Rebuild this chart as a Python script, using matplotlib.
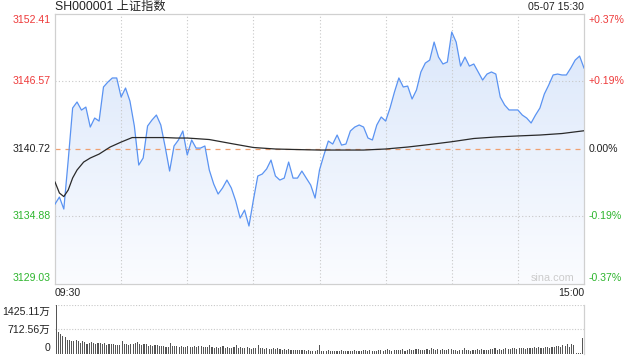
import numpy as np
import matplotlib
matplotlib.use('Agg')
import matplotlib.pyplot as plt
from matplotlib.colors import LinearSegmentedColormap
from matplotlib.patches import PathPatch
from matplotlib.path import Path

plt.rcParams['font.family'] = ['Liberation Sans', 'Noto Sans CJK SC', 'DejaVu Sans']

title = 'SH000001 上证指数'
stamp = '05-07 15:30'
prev_close = 3140.72
price_ticks = [3129.03, 3134.88, 3140.72, 3146.57, 3152.41]
pct_labels = ['-0.37%', '-0.19%', '0.00%', '+0.19%', '+0.37%']
time_labels = ['09:30', '15:00']

# price sampled every 2 minutes (minute index 0..240)
price = [3135.95, 3136.56, 3135.52, 3139.76, 3144.27, 3144.79, 3144.09, 3144.35, 3142.62, 3143.40,
         3143.14, 3146.09, 3146.52, 3146.87, 3146.87, 3145.22, 3146.00, 3144.87, 3142.71, 3139.33,
         3139.94, 3142.71, 3143.23, 3143.66, 3142.80, 3140.89, 3138.81, 3140.98, 3141.50, 3142.28,
         3140.20, 3141.50, 3140.80, 3140.80, 3140.98, 3138.90, 3137.69, 3136.82, 3137.34, 3138.03,
         3137.34, 3136.21, 3134.74, 3135.43, 3134.05, 3136.30, 3138.38, 3138.55, 3138.99, 3139.76,
         3138.38, 3138.03, 3138.20, 3139.59, 3138.20, 3138.20, 3138.81, 3138.20, 3137.60, 3136.47,
         3138.90, 3140.20, 3141.41, 3141.15, 3141.93, 3141.06, 3141.15, 3142.28, 3142.62, 3142.80,
         3142.62, 3141.67, 3141.50, 3142.80, 3143.49, 3143.14, 3144.27, 3145.65, 3146.87, 3146.09,
         3146.17, 3145.05, 3145.83, 3147.39, 3148.16, 3148.42, 3149.98, 3148.68, 3148.08, 3148.25,
         3150.85, 3149.98, 3147.90, 3148.68, 3147.90, 3148.08, 3147.39, 3146.69, 3147.21, 3147.39,
         3147.21, 3145.22, 3144.53, 3144.10, 3144.10, 3144.10, 3143.66, 3143.40, 3142.97, 3143.66,
         3144.27, 3145.48, 3146.26, 3147.13, 3147.21, 3147.13, 3147.13, 3147.73, 3148.42, 3148.77,
         3147.73]
price_minutes = list(range(0, 241, 2))

avg_minutes = [0, 2, 4, 6, 8, 10, 13, 16, 20, 25, 30, 35, 40, 45, 50, 55, 60, 70, 80, 90, 100,
               110, 120, 130, 140, 150, 160, 170, 180, 190, 200, 210, 220, 230, 240]
avg_price = [3137.86, 3136.91, 3136.60, 3137.17, 3138.21, 3138.90, 3139.59, 3139.94, 3140.28,
             3140.89, 3141.32, 3141.71, 3141.71, 3141.71, 3141.71, 3141.67, 3141.67, 3141.54,
             3141.19, 3140.85, 3140.72, 3140.67, 3140.63, 3140.63, 3140.63, 3140.72, 3140.89,
             3141.11, 3141.35, 3141.63, 3141.76, 3141.85, 3141.93, 3142.06, 3142.30]

# volume per minute, in 万
volume = [1425, 630, 580, 515, 485, 420, 400, 390, 380, 395,
          370, 330, 380, 340, 300, 310, 360, 320, 290, 330,
          310, 290, 330, 270, 300, 290, 280, 260, 270, 250,
          390, 300, 280, 270, 290, 300, 320, 350, 290, 260,
          280, 300, 230, 270, 220, 260, 250, 240, 230, 220,
          210, 200, 330, 240, 220, 230, 210, 220, 200, 210,
          230, 200, 190, 220, 210, 230, 220, 200, 210, 190,
          260, 200, 180, 190, 170, 200, 220, 180, 190, 170,
          160, 210, 260, 170, 200, 180, 160, 190, 170, 150,
          180, 170, 250, 160, 170, 150, 160, 150, 140, 160,
          150, 170, 140, 130, 150, 120, 140, 130, 120, 110,
          130, 120, 110, 120, 100, 110, 90, 100, 80, 120,
          250,
          100, 90, 100, 110, 90, 95, 100, 90, 100, 110,
          95, 90, 100, 90, 95, 110, 100, 95, 100, 110,
          120, 100, 110, 90, 100, 95, 110, 120, 100, 110,
          140, 110, 100, 130, 120, 110, 130, 140, 100, 110,
          150, 120, 110, 140, 150, 110, 120, 130, 150, 120,
          160, 140, 110, 140, 130, 150, 120, 110, 150, 140,
          120, 110, 100, 110, 120, 160, 120, 110, 100, 110,
          120, 150, 130, 140, 110, 120, 130, 140, 150, 170,
          120, 140, 130, 150, 160, 140, 150, 170, 160, 140,
          180, 160, 170, 150, 170, 180, 160, 190, 170, 200,
          180, 160, 190, 200, 180, 210, 190, 220, 240, 210,
          260, 230, 280, 200, 290, 250,
          15, 15, 15,
          470]
vol_ticks = [0, 712.56, 1425.11]
vol_labels = ['0', '712.56万', '1425.11万']

RED = '#ee3a3a'
GREEN = '#2db52d'
DARK = '#222222'
GRID = '#c8c8c8'
LINE = '#5a93f2'

W, H = 640, 360
fig = plt.figure(figsize=(6.4, 3.6), dpi=100)

def fx(px):
    return px / W

def fy(py):
    return 1 - py / H

ax = fig.add_axes([55 / W, 76 / H, 529 / W, 270 / H])
ax.set_xlim(0, 240)
ax.set_ylim(price_ticks[0], price_ticks[-1])

pm = np.array(price_minutes, dtype=float)
pv = np.array(price, dtype=float)

# gradient fill under the price line
cmap = LinearSegmentedColormap.from_list('g', ['#fbfcff', '#d9e6fa'])
grad = np.linspace(0, 1, 256).reshape(-1, 1)
im = ax.imshow(grad, aspect='auto', cmap=cmap, origin='lower',
               extent=[0, 240, price_ticks[0], price_ticks[-1]], zorder=1)
verts = [(pm[0], price_ticks[0])] + list(zip(pm, pv)) + [(pm[-1], price_ticks[0])]
poly = Path(verts + [verts[0]], closed=True)
patch = PathPatch(poly, facecolor='none', edgecolor='none')
ax.add_patch(patch)
im.set_clip_path(patch)

# grid
for m in [30, 60, 90, 120, 150, 180, 210]:
    ax.axvline(m, color=GRID, lw=0.8, ls=(0, (1, 2)), zorder=2)
for p in [price_ticks[1], price_ticks[3]]:
    ax.axhline(p, color=GRID, lw=0.8, ls=(0, (1, 2)), zorder=2)
ax.axhline(prev_close, color='#f0a070', lw=0.9, ls=(0, (4, 4)), zorder=2)

ax.plot(pm, pv, color=LINE, lw=0.9, zorder=4)
ax.plot(avg_minutes, avg_price, color='#2a2a2a', lw=0.9, zorder=5)

ax.set_xticks([])
ax.set_yticks([])
for s in ax.spines.values():
    s.set_color('#d0d0d0')
    s.set_linewidth(0.9)

ax.text(0.94, 0.004, 'sina.com', transform=ax.transAxes, ha='center', va='bottom',
        color='#cccccc', fontsize=7.8)

# labels
for p, pct in zip(price_ticks, pct_labels):
    col = RED if p > prev_close else (GREEN if p < prev_close else DARK)
    yy = 14 + (price_ticks[-1] - p) / (price_ticks[-1] - price_ticks[0]) * 270
    yy = min(max(yy, 20), 278)
    fig.text(fx(51), fy(yy), f'{p:.2f}', ha='right', va='center', color=col, fontsize=7.6)
    fig.text(fx(589), fy(yy), pct, ha='left', va='center', color=col, fontsize=7.6)

fig.text(fx(55), fy(7), title, ha='left', va='center', color=DARK, fontsize=8.8)
fig.text(fx(584), fy(7), stamp, ha='right', va='center', color=DARK, fontsize=7.6)
fig.text(fx(55), fy(293), time_labels[0], ha='left', va='center', color=DARK, fontsize=7.6)
fig.text(fx(584), fy(293), time_labels[1], ha='right', va='center', color=DARK, fontsize=7.6)

# volume
vx = fig.add_axes([55 / W, 6 / H, 529 / W, 49 / H])
vx.set_xlim(-0.6, 240.6)
vx.set_ylim(0, vol_ticks[-1])
vx.bar(np.arange(len(volume)), volume, width=0.5, color='#555555', linewidth=0)
for v in vol_ticks[1:]:
    vx.axhline(v, color=GRID, lw=0.8, ls=(0, (1, 1.5)), zorder=0)
vx.set_xticks([])
vx.set_yticks([])
for k in ['top', 'bottom', 'left']:
    vx.spines[k].set_visible(False)
vx.spines['right'].set_color('#d0d0d0')
vx.spines['right'].set_linewidth(0.9)

for yy, lab in zip([348, 330, 312], vol_labels):
    fig.text(fx(50), fy(yy), lab, ha='right', va='center', color=DARK, fontsize=7.6)

fig.savefig('out.png', dpi=100)
